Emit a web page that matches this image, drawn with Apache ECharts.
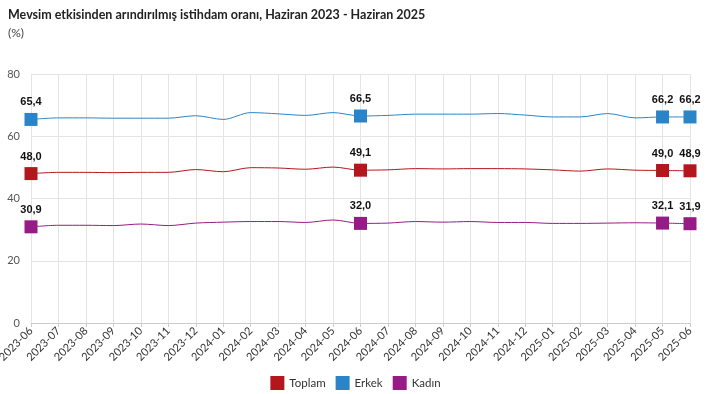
<!DOCTYPE html>
<html>
<head>
<meta charset="utf-8">
<script src="https://cdn.jsdelivr.net/npm/echarts@6/dist/echarts.min.js"></script>
<style>html,body{margin:0;padding:0;background:#fff;}#c{width:711px;height:394px;}</style>
</head>
<body>
<div id="c"></div>
<script>
const categories = ['2023-06','2023-07','2023-08','2023-09','2023-10','2023-11','2023-12','2024-01','2024-02','2024-03','2024-04','2024-05','2024-06','2024-07','2024-08','2024-09','2024-10','2024-11','2024-12','2025-01','2025-02','2025-03','2025-04','2025-05','2025-06'];
const toplam = [48.0,48.4,48.4,48.3,48.4,48.4,49.3,48.6,49.9,49.8,49.4,50.1,49.1,49.2,49.6,49.5,49.6,49.6,49.5,49.2,48.8,49.5,49.1,49.0,48.9];
const erkek  = [65.4,65.9,65.9,65.8,65.8,65.8,66.6,65.4,67.6,67.2,66.7,67.6,66.5,66.7,67.1,67.1,67.1,67.3,66.8,66.2,66.2,67.3,65.9,66.2,66.2];
const kadin  = [30.9,31.4,31.4,31.3,31.8,31.3,32.1,32.4,32.6,32.6,32.3,33.1,32.0,32.1,32.6,32.4,32.6,32.3,32.3,32.0,32.0,32.1,32.2,32.1,31.9];
const markedIdx = [0,12,23,24];
const yTicks = [0,20,40,60,80];

const fmt = v => v.toFixed(1).replace('.', ',');
function build(arr){
  return arr.map((v,i)=> markedIdx.includes(i) ? {
    value:v, symbol:'rect', symbolSize:13,
    label:{show:true, position:'top', distance:5, formatter:()=>fmt(v), fontWeight:'bold', fontSize:11, color:'#111', fontFamily:'Liberation Sans, Arial, sans-serif'}
  } : {value:v, symbol:'none'});
}
const colors = {Toplam:'#b5151d', Erkek:'#2a85c8', Kadin:'#951b86'};
function series(name, arr, color){
  return {name, type:'line', data:build(arr), smooth:0.3, showSymbol:true,
    lineStyle:{width:1, color}, itemStyle:{color}, emphasis:{disabled:true}};
}
const chart = echarts.init(document.getElementById('c'));
chart.setOption({
  animation:false,
  color:[colors.Toplam, colors.Erkek, colors.Kadin],
  title:[
    {text:'Mevsim etkisinden arındırılmış istihdam oranı, Haziran 2023 - Haziran 2025', left:3, top:3,
     textStyle:{fontSize:12.5, fontWeight:'bold', color:'#222', fontFamily:'Lato, Noto Sans, sans-serif'}},
    {text:'(%)', left:3, top:22, textStyle:{fontSize:12, fontWeight:'normal', color:'#444', fontFamily:'Lato, Noto Sans, sans-serif'}}
  ],
  legend:{bottom:-1, left:'center', itemWidth:14, itemHeight:14, itemGap:10, icon:'rect',
    textStyle:{fontSize:11.5, color:'#333', fontFamily:'Lato, Noto Sans, sans-serif'},
    data:['Toplam','Erkek','Kadın']},
  grid:{left:31, right:21, top:74, bottom:71, containLabel:false, outerBoundsMode:'none'},
  xAxis:{type:'category', data:categories, boundaryGap:false,
    axisLine:{lineStyle:{color:'#ccc'}}, axisTick:{show:true, lineStyle:{color:'#ccc'}, length:4},
    axisLabel:{rotate:45, fontSize:11, color:'#333', margin:6, interval:0, fontFamily:'Lato, Noto Sans, sans-serif'},
    splitLine:{show:true, lineStyle:{color:'#e4e4e4'}}},
  yAxis:{type:'value', min:yTicks[0], max:yTicks[yTicks.length-1], interval:20,
    axisLine:{show:false}, axisTick:{show:false},
    axisLabel:{fontSize:11, color:'#555', margin:11, fontFamily:'Lato, Noto Sans, sans-serif'},
    splitLine:{lineStyle:{color:'#e4e4e4'}}},
  series:[series('Toplam', toplam, colors.Toplam), series('Erkek', erkek, colors.Erkek), series('Kadın', kadin, colors.Kadin)]
});
</script>
</body>
</html>
